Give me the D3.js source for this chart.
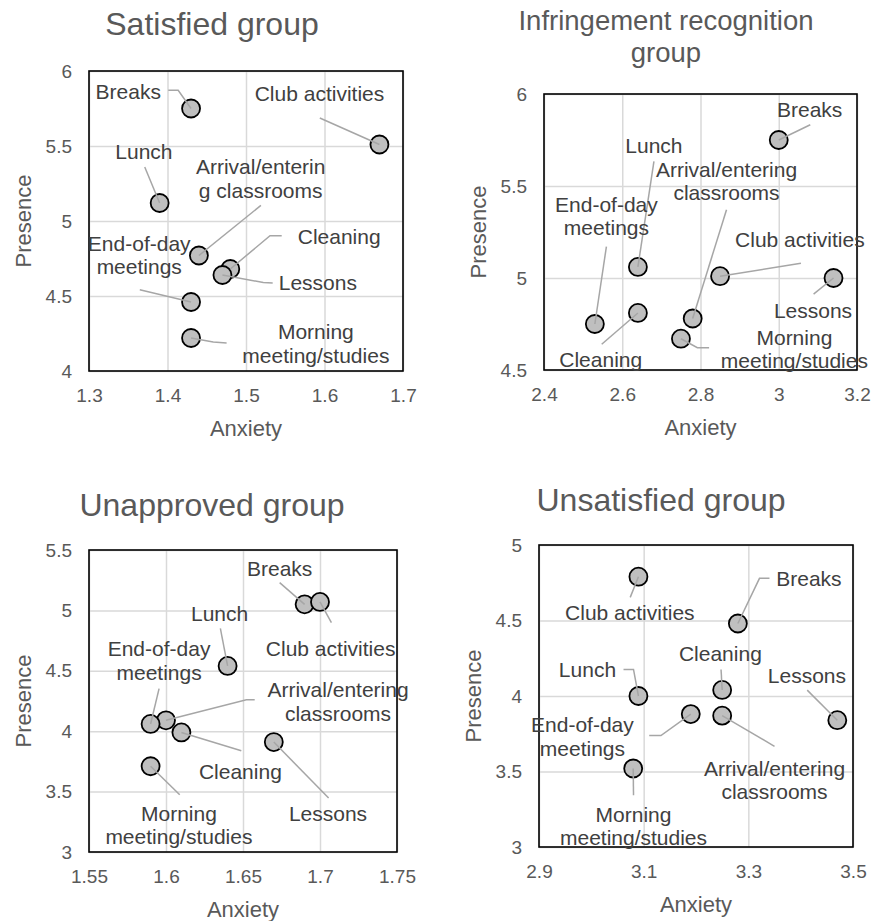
<!DOCTYPE html>
<html>
<head>
<meta charset="utf-8">
<script src="https://cdn.jsdelivr.net/npm/d3@7"></script>
<style>
  html, body { margin: 0; padding: 0; background: #ffffff; }
  svg { display: block; font-family: "Liberation Sans", Arial, sans-serif; }
</style>
</head>
<body>
<svg id="chart" width="882" height="921"></svg>
<script>
// ---------------- DATA ----------------
const activities = ["Breaks", "Club activities", "Lunch", "Arrival/entering classrooms",
  "Cleaning", "Lessons", "End-of-day meetings", "Morning meeting/studies"];

const groupTitles = ["Satisfied group", "Infringement recognition group", "Unapproved group", "Unsatisfied group"];

const satisfiedAnxiety  = [1.43, 1.67, 1.39, 1.44, 1.48, 1.47, 1.43, 1.43];
const satisfiedPresence = [5.75, 5.51, 5.12, 4.77, 4.68, 4.64, 4.46, 4.22];

const infringementAnxiety  = [3.00, 2.85, 2.64, 2.78, 2.64, 3.14, 2.53, 2.75];
const infringementPresence = [5.75, 5.01, 5.06, 4.78, 4.81, 5.00, 4.75, 4.67];

const unapprovedAnxiety  = [1.69, 1.70, 1.64, 1.60, 1.61, 1.67, 1.59, 1.59];
const unapprovedPresence = [5.05, 5.07, 4.54, 4.09, 3.99, 3.91, 4.06, 3.71];

const unsatisfiedAnxiety  = [3.28, 3.09, 3.09, 3.25, 3.25, 3.47, 3.19, 3.08];
const unsatisfiedPresence = [4.48, 4.79, 4.00, 3.87, 4.04, 3.84, 3.88, 3.52];

const satisfiedXTicks = [1.3, 1.4, 1.5, 1.6, 1.7];
const satisfiedYTicks = [4, 4.5, 5, 5.5, 6];
const infringementXTicks = [2.4, 2.6, 2.8, 3, 3.2];
const infringementYTicks = [4.5, 5, 5.5, 6];
const unapprovedXTicks = [1.55, 1.6, 1.65, 1.7, 1.75];
const unapprovedYTicks = [3, 3.5, 4, 4.5, 5, 5.5];
const unsatisfiedXTicks = [2.9, 3.1, 3.3, 3.5];
const unsatisfiedYTicks = [3, 3.5, 4, 4.5, 5];

// ---------------- LABEL LAYOUT (in data units, same order as activities) ----------------
const satisfiedLabels = [
  { lines: ["Breaks"], at: [1.35, 5.86], leader: [[1.401, 5.871], [1.4136, 5.871]] },
  { lines: ["Club activities"], at: [1.5936, 5.849], leader: [[1.594, 5.687]] },
  { lines: ["Lunch"], at: [1.37, 5.464], leader: [[1.371, 5.36]] },
  { lines: ["Arrival/enterin", "g classrooms"], at: [1.5187, 5.36], leader: [[1.519, 5.104]] },
  { lines: ["Cleaning"], at: [1.6187, 4.893], leader: [[1.5455, 4.902], [1.5306, 4.902]] },
  { lines: ["Lessons"], at: [1.5915, 4.587], leader: [[1.534, 4.587], [1.522, 4.59]] },
  { lines: ["End-of-day", "meetings"], at: [1.364, 4.849], leader: [[1.3647, 4.542]] },
  { lines: ["Morning", "meeting/studies"], at: [1.589, 4.26], leader: [[1.4753, 4.187], [1.4583, 4.193]] }
];
const infringementLabels = [
  { lines: ["Breaks"], at: [3.079, 5.915], leader: [[3.0806, 5.833]] },
  { lines: ["Club activities"], at: [3.054, 5.211], leader: [[3.0567, 5.08]] },
  { lines: ["Lunch"], at: [2.681, 5.719], leader: [[2.681, 5.634]] },
  { lines: ["Arrival/entering", "classrooms"], at: [2.8665, 5.588], leader: [[2.8665, 5.371]] },
  { lines: ["Cleaning"], at: [2.545, 4.558], leader: [[2.5475, 4.64]] },
  { lines: ["Lessons"], at: [3.0875, 4.821], leader: [[3.089, 4.912]] },
  { lines: ["End-of-day", "meetings"], at: [2.5595, 5.398], leader: [[2.5595, 5.171]] },
  { lines: ["Morning", "meeting/studies"], at: [3.04, 4.678], leader: [[2.822, 4.6215], [2.792, 4.6215]] }
];
const unapprovedLabels = [
  { lines: ["Breaks"], at: [1.6738, 5.348], leader: [[1.6738, 5.23]] },
  { lines: ["Club activities"], at: [1.7069, 4.681], leader: [[1.7074, 4.899]] },
  { lines: ["Lunch"], at: [1.6348, 4.976], leader: [[1.6353, 4.852]] },
  { lines: ["Arrival/entering", "classrooms"], at: [1.7117, 4.342], leader: [[1.6576, 4.26], [1.6522, 4.26]] },
  { lines: ["Cleaning"], at: [1.6483, 3.6615], leader: [[1.6489, 3.838]] },
  { lines: ["Lessons"], at: [1.7052, 3.314], leader: [[1.7056, 3.4465]] },
  { lines: ["End-of-day", "meetings"], at: [1.5955, 4.681], leader: [[1.5955, 4.353]] },
  { lines: ["Morning", "meeting/studies"], at: [1.6084, 3.317], leader: [[1.6089, 3.474]] }
];
const unsatisfiedLabels = [
  { lines: ["Breaks"], at: [3.4157, 4.779], leader: [[3.3404, 4.779], [3.3213, 4.779]] },
  { lines: ["Club activities"], at: [3.0736, 4.551], leader: [[3.0743, 4.653]] },
  { lines: ["Lunch"], at: [2.9926, 4.176], leader: [[3.0615, 4.176], [3.0806, 4.176]] },
  { lines: ["Arrival/entering", "classrooms"], at: [3.35, 3.519], leader: [[3.35, 3.667]] },
  { lines: ["Cleaning"], at: [3.2466, 4.282], leader: [[3.2479, 4.176]] },
  { lines: ["Lessons"], at: [3.412, 4.134], leader: [[3.4125, 4.039]] },
  { lines: ["End-of-day", "meetings"], at: [2.983, 3.807], leader: [[3.1106, 3.738], [3.133, 3.738]] },
  { lines: ["Morning", "meeting/studies"], at: [3.0806, 3.214], leader: [[3.0806, 3.3425]] }
];

// ---------------- PANEL FRAMES (pixels) ----------------
const panels = [
  { title: [groupTitles[0]], titleSize: 32, titleX: 212, titleY: [24],
    frame: { x0: 89, x1: 403, y0: 71, y1: 371 },
    x: satisfiedAnxiety, y: satisfiedPresence, xTicks: satisfiedXTicks, yTicks: satisfiedYTicks,
    labels: satisfiedLabels },
  { title: ["Infringement recognition", "group"], titleSize: 27.5, titleX: 666, titleY: [20, 52],
    frame: { x0: 544, x1: 857, y0: 94, y1: 370 },
    x: infringementAnxiety, y: infringementPresence, xTicks: infringementXTicks, yTicks: infringementYTicks,
    labels: infringementLabels },
  { title: [groupTitles[2]], titleSize: 32, titleX: 212, titleY: [505],
    frame: { x0: 89, x1: 397, y0: 550, y1: 852 },
    x: unapprovedAnxiety, y: unapprovedPresence, xTicks: unapprovedXTicks, yTicks: unapprovedYTicks,
    labels: unapprovedLabels },
  { title: [groupTitles[3]], titleSize: 32, titleX: 661, titleY: [500],
    frame: { x0: 539, x1: 853, y0: 545, y1: 847 },
    x: unsatisfiedAnxiety, y: unsatisfiedPresence, xTicks: unsatisfiedXTicks, yTicks: unsatisfiedYTicks,
    labels: unsatisfiedLabels }
];

const svg = d3.select("#chart");
const textGray = "#595959";
const labelColor = "#404040";

panels.forEach(p => {
  const f = p.frame;
  const xs = d3.scaleLinear().domain(d3.extent(p.xTicks)).range([f.x0, f.x1]);
  const ys = d3.scaleLinear().domain(d3.extent(p.yTicks)).range([f.y1, f.y0]);
  const g = svg.append("g");

  // Title
  p.title.forEach((t, i) => {
    g.append("text")
      .attr("x", p.titleX).attr("y", p.titleY[i])
      .attr("dy", "0.35em")
      .attr("text-anchor", "middle")
      .attr("font-size", p.titleSize)
      .attr("fill", textGray)
      .text(t);
  });

  // Gridlines
  const gx = g.append("g").attr("transform", `translate(0,${f.y1})`)
    .call(d3.axisBottom(xs).tickValues(p.xTicks).tickSize(-(f.y1 - f.y0)).tickFormat(""));
  gx.select(".domain").remove();
  gx.selectAll("line").attr("stroke", "#d9d9d9").attr("stroke-width", 1.5);

  const gy = g.append("g").attr("transform", `translate(${f.x0},0)`)
    .call(d3.axisLeft(ys).tickValues(p.yTicks).tickSize(-(f.x1 - f.x0)).tickFormat(""));
  gy.select(".domain").remove();
  gy.selectAll("line").attr("stroke", "#d9d9d9").attr("stroke-width", 1.5);

  // Tick labels via axes
  const ax = g.append("g").attr("transform", `translate(0,${f.y1})`)
    .call(d3.axisBottom(xs).tickValues(p.xTicks).tickSize(0).tickPadding(18).tickFormat(d => String(d)));
  ax.select(".domain").remove();
  ax.selectAll("text").attr("font-size", 19).attr("fill", textGray)
    .attr("font-family", "Liberation Sans, Arial, sans-serif");

  const ay = g.append("g").attr("transform", `translate(${f.x0},0)`)
    .call(d3.axisLeft(ys).tickValues(p.yTicks).tickSize(0).tickPadding(17).tickFormat(d => String(d)));
  ay.select(".domain").remove();
  ay.selectAll("text").attr("font-size", 19).attr("fill", textGray)
    .attr("font-family", "Liberation Sans, Arial, sans-serif");

  // Frame
  g.append("rect")
    .attr("x", f.x0).attr("y", f.y0)
    .attr("width", f.x1 - f.x0).attr("height", f.y1 - f.y0)
    .attr("fill", "none").attr("stroke", "#000").attr("stroke-width", 1.6);

  // Axis titles
  g.append("text")
    .attr("x", (f.x0 + f.x1) / 2).attr("y", f.y1 + 57)
    .attr("dy", "0.35em").attr("text-anchor", "middle")
    .attr("font-size", 22).attr("fill", textGray).text("Anxiety");
  g.append("text")
    .attr("transform", `translate(${f.x0 - 66},${(f.y0 + f.y1) / 2}) rotate(-90)`)
    .attr("dy", "0.35em").attr("text-anchor", "middle")
    .attr("font-size", 22).attr("fill", textGray).text("Presence");

  const pts = activities.map((a, i) => ({ name: a, ax: p.x[i], pr: p.y[i], lab: p.labels[i] }));

  // Points
  g.append("g").selectAll("circle").data(pts).join("circle")
    .attr("cx", d => xs(d.ax)).attr("cy", d => ys(d.pr))
    .attr("r", 9)
    .attr("fill", "#bfbfbf").attr("stroke", "#000").attr("stroke-width", 1.8);

  // Leader lines
  const line = d3.line().x(d => xs(d[0])).y(d => ys(d[1]));
  g.append("g").selectAll("path").data(pts).join("path")
    .attr("d", d => line(d.lab.leader.concat([[d.ax, d.pr]])))
    .attr("fill", "none").attr("stroke", "#a6a6a6").attr("stroke-width", 1.5);

  // Labels
  const lt = g.append("g").selectAll("text").data(pts).join("text")
    .attr("text-anchor", "middle")
    .attr("font-size", 21).attr("fill", labelColor);
  lt.each(function (d) {
    const t = d3.select(this);
    d.lab.lines.forEach((s, i) => {
      t.append("tspan")
        .attr("x", xs(d.lab.at[0]))
        .attr("y", ys(d.lab.at[1]) + i * 23.3)
        .attr("dy", "0.35em")
        .text(s);
    });
  });
});
</script>
</body>
</html>
